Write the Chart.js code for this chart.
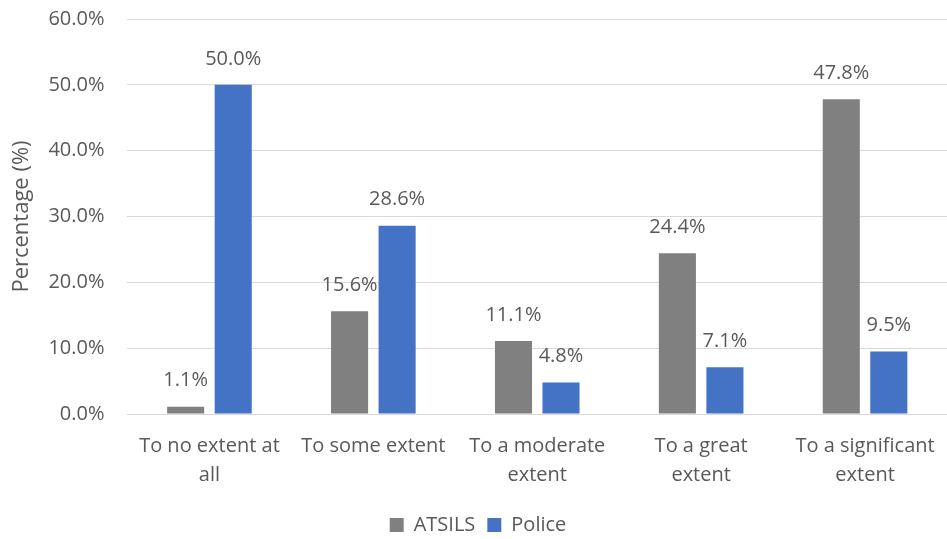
<!DOCTYPE html>
<html>
<head>
<meta charset="utf-8">
<script src="https://cdn.jsdelivr.net/npm/chart.js@4.4.0/dist/chart.umd.min.js"></script>
<style>
  html, body { margin: 0; padding: 0; background: #fff; }
  #wrap { width: 947px; height: 539px; position: relative; }
</style>
</head>
<body>
<div id="wrap"><canvas id="extentChart"></canvas></div>
<script>
const categories = [
    ['To no extent at', 'all'],
    'To some extent',
    ['To a moderate', 'extent'],
    ['To a great', 'extent'],
    ['To a significant', 'extent']
];
const atsilsValues = [1.1, 15.6, 11.1, 24.4, 47.8];
const policeValues = [50.0, 28.6, 4.8, 7.1, 9.5];
const yTicks = [0, 10, 20, 30, 40, 50, 60];

const textColor = '#595959';
const fontFamily = "'Open Sans', 'Liberation Sans', sans-serif";

// value labels above each bar
const BarValueLabels = {
    id: 'BarValueLabels',
    afterDatasetsDraw(chart) {
        const { ctx, data } = chart;
        ctx.save();
        ctx.font = '20px ' + fontFamily;
        ctx.fillStyle = textColor;
        ctx.textAlign = 'center';
        ctx.textBaseline = 'middle';
        data.datasets.forEach((ds, i) => {
            chart.getDatasetMeta(i).data.forEach((bar, j) => {
                ctx.fillText(ds.data[j].toFixed(1) + '%', bar.x, bar.y - 26);
            });
        });
        ctx.restore();
    }
};

const config = {
    type: 'bar',
    plugins: [BarValueLabels],
    data: {
        labels: categories,
        datasets: [
            {
                label: 'ATSILS',
                data: atsilsValues,
                backgroundColor: '#808080',
                barPercentage: 0.78,
                categoryPercentage: 0.58,
            },
            {
                label: 'Police',
                data: policeValues,
                backgroundColor: '#4472c4',
                barPercentage: 0.78,
                categoryPercentage: 0.58,
            }
        ]
    },
    options: {
        responsive: true,
        maintainAspectRatio: false,
        animation: false,
        layout: {
            padding: { left: 9, right: 0, top: 0, bottom: -6 }
        },
        plugins: {
            legend: {
                display: true,
                position: 'bottom',
                labels: {
                    boxWidth: 14,
                    boxHeight: 14,
                    padding: 12,
                    color: textColor,
                    font: { size: 20, family: fontFamily }
                }
            },
            tooltip: { enabled: false },
        },
        scales: {
            x: {
                grid: { display: false },
                border: { color: '#d9d9d9' },
                afterFit: (axis) => { axis.height += 3; },
                ticks: {
                    color: textColor,
                    maxRotation: 0,
                    autoSkip: false,
                    padding: 10,
                    font: { size: 20, family: fontFamily, lineHeight: 1.45 }
                }
            },
            y: {
                min: 0,
                max: 60,
                afterBuildTicks: (axis) => {
                    axis.ticks = yTicks.map(v => ({ value: v }));
                },
                afterFit: (axis) => { axis.paddingTop = 19; },
                grid: { color: '#d9d9d9', drawTicks: true, tickLength: 10, tickColor: 'rgba(0,0,0,0)' },
                border: { display: false },
                ticks: {
                    color: textColor,
                    padding: 13,
                    font: { size: 20, family: fontFamily },
                    callback: (v) => v.toFixed(1) + '%'
                },
                title: {
                    display: true,
                    text: 'Percentage (%)',
                    color: textColor,
                    padding: { top: 0, bottom: 0 },
                    font: { size: 22, family: fontFamily }
                }
            }
        }
    }
};

const extentChart = new Chart(document.getElementById('extentChart'), config);
</script>
</body>
</html>
